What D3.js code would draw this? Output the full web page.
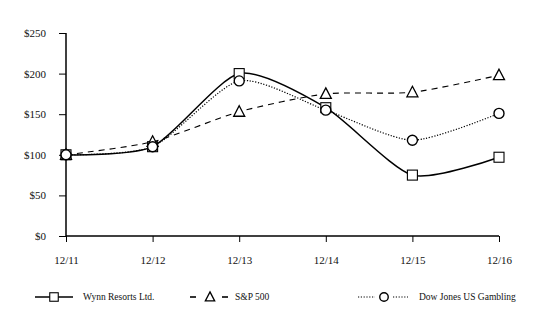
<!DOCTYPE html>
<html><head><meta charset="utf-8">
<script src="https://cdn.jsdelivr.net/npm/d3@7"></script>
<style>body{margin:0;background:#fff}svg{display:block}text{font-family:"Liberation Serif","Times New Roman",serif;fill:#111}</style>
</head><body><svg id="c" width="533" height="333"></svg>
<script>
const categories = ["12/11","12/12","12/13","12/14","12/15","12/16"];
const wynn = [100, 110, 200, 158, 75, 97];
const sp500 = [100, 116, 153, 175, 177, 198];
const dowjones = [100, 110, 191, 155, 118, 151];
const yTicks = [0, 50, 100, 150, 200, 250];
const seriesNames = ["Wynn Resorts Ltd.", "S&P 500", "Dow Jones US Gambling"];

const svg = d3.select("#c");
const x = d3.scalePoint().domain(categories).range([66, 499]);
const y = d3.scaleLinear().domain([0, 250]).range([236, 33]);

const yAxis = d3.axisLeft(y).tickValues(yTicks).tickFormat(d => "$" + d).tickSize(7).tickPadding(13);
const gy = svg.append("g").attr("transform", "translate(66,0)").call(yAxis);
gy.select(".domain").attr("stroke", "#000").attr("stroke-width", 1.5).attr("d", "M0,33V236");
gy.selectAll(".tick line").attr("stroke", "#000");
gy.selectAll("text").style("font-size", "11px").attr("fill", "#111");

const xAxis = d3.axisBottom(x).tickSize(6).tickPadding(14);
const gx = svg.append("g").attr("transform", "translate(0,236)").call(xAxis);
gx.select(".domain").attr("stroke", "#000").attr("stroke-width", 1.5).attr("d", "M66,0H499");
gx.selectAll(".tick line").attr("stroke", "#000");
gx.selectAll("text").style("font-size", "11px").attr("fill", "#111");

const line = d3.line().x((d, i) => x(categories[i])).y(d => y(d)).curve(d3.curveCardinal.tension(0.3));

const styles = [
  {data: wynn, dash: null, w: 1.5, marker: "square"},
  {data: sp500, dash: "6,5", w: 1.1, marker: "triangle"},
  {data: dowjones, dash: "1.2,1.6", w: 1.2, marker: "circle"}
];

function drawMarker(g, type, cx, cy, s) {
  s = s || 1;
  if (type === "square") {
    g.append("rect").attr("x", cx - 5*s).attr("y", cy - 5*s).attr("width", 10*s).attr("height", 10*s)
      .attr("fill", "#fff").attr("stroke", "#000").attr("stroke-width", 1.1);
  } else if (type === "triangle") {
    g.append("path").attr("d", `M${cx},${cy-6*s}L${cx+5.5*s},${cy+4.5*s}L${cx-5.5*s},${cy+4.5*s}Z`)
      .attr("fill", "#fff").attr("stroke", "#000").attr("stroke-width", 1.3);
  } else {
    g.append("circle").attr("cx", cx).attr("cy", cy).attr("r", 5*s)
      .attr("fill", "#fff").attr("stroke", "#000").attr("stroke-width", 1.4);
  }
}

styles.forEach(s => {
  svg.append("path").attr("d", line(s.data)).attr("fill", "none").attr("stroke", "#000")
    .attr("stroke-width", s.w).attr("stroke-dasharray", s.dash);
});
styles.forEach(s => {
  const g = svg.append("g");
  s.data.forEach((v, i) => drawMarker(g, s.marker, x(categories[i]), y(v)));
});

// legend
const legend = [
  {x0: 35, x1: 73, mx: 54, tx: 83},
  {x0: 190, x1: 228, mx: 210, tx: 235},
  {x0: 358, x1: 408, mx: 384, tx: 419}
];
const ly = 297;
legend.forEach((l, i) => {
  const s = styles[i];
  const g = svg.append("g");
  if (i === 1) {
    g.append("line").attr("x1", l.x0).attr("x2", l.x0 + 6).attr("y1", ly).attr("y2", ly).attr("stroke", "#000").attr("stroke-width", 1.6);
    g.append("line").attr("x1", l.x1 - 6).attr("x2", l.x1).attr("y1", ly).attr("y2", ly).attr("stroke", "#000").attr("stroke-width", 1.6);
  } else if (i === 2) {
    g.append("line").attr("x1", l.x0).attr("x2", l.mx - 9).attr("y1", ly).attr("y2", ly).attr("stroke", "#000").attr("stroke-width", 1.2).attr("stroke-dasharray", "1.2,1.6");
    g.append("line").attr("x1", l.mx + 9).attr("x2", l.x1).attr("y1", ly).attr("y2", ly).attr("stroke", "#000").attr("stroke-width", 1.2).attr("stroke-dasharray", "1.2,1.6");
  } else {
    g.append("line").attr("x1", l.x0).attr("x2", l.x1).attr("y1", ly).attr("y2", ly).attr("stroke", "#000").attr("stroke-width", 1.5);
  }
  drawMarker(g, s.marker, l.mx, ly, 0.85);
  g.append("text").attr("x", l.tx).attr("y", ly + 3).style("font-size", "9.5px").text(seriesNames[i]);
});
</script></body></html>
